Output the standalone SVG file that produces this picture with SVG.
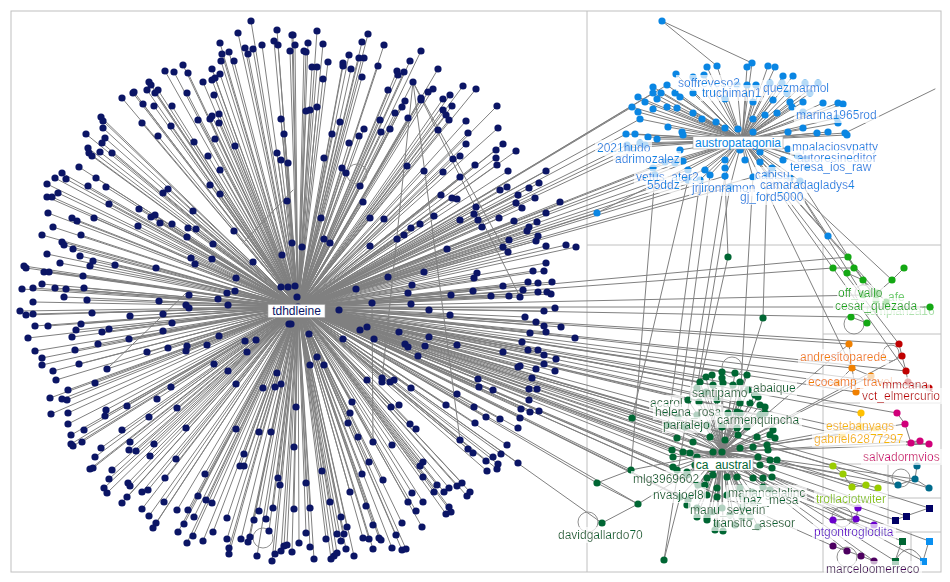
<svg xmlns="http://www.w3.org/2000/svg" width="950" height="582" viewBox="0 0 950 582">
<style>
text{font-family:"Liberation Sans",Arial,sans-serif;font-size:12px}
.e{stroke:#808080;stroke-width:1;fill:none;stroke-linecap:round}
.grid{stroke:#c0c0c0;stroke-width:1;fill:none}
.loop{stroke:#909090;stroke-width:1;fill:none}
.nv{fill:#0b1565}.bl{fill:#0a86e3}.dg{fill:#006633}.lg{fill:#14a814}.or{fill:#f08000}.rd{fill:#c00000}
.gd{fill:#ffc000}.mg{fill:#d0007a}.tl{fill:#006b8c}.lm{fill:#99cc00}.pu{fill:#6a00cc}.dp{fill:#4d0060}
.tnv{fill:#0b1565}.tbl{fill:#0a86e3}.tdg{fill:#006633}.tlg{fill:#14a814}.tor{fill:#f08000}.trd{fill:#c00000}
.tgd{fill:#f5b800}.tmg{fill:#d0007a}.tlm{fill:#8cc400}.tpu{fill:#6a00cc}.tdp{fill:#4d0060}
.hb{fill:#fff;stroke:#a0a0a0;stroke-width:.6}
</style>
<defs>
<filter id="lb" x="-0.02" y="-0.05" width="1.04" height="1.1">
<feFlood flood-color="#fff" flood-opacity="0.7" result="f"/>
<feMerge><feMergeNode in="f"/><feMergeNode in="SourceGraphic"/></feMerge>
</filter>
</defs>
<rect width="950" height="582" fill="#fff"/>
<g id="grid">
<rect class="grid" x="11" y="11" width="930" height="561"/>
<path class="grid" d="M587 11V572M587 245H941M823 245V572M823 334H941M823 403H941M823 464H941M888 464V532M888 498H941M823 532H941M911 532V572"/>
</g>
<g id="connectors">
<path class="e" d="M298 307L251 21M298 307L277 30M298 307L292 35M298 307L238 33M298 307L220 43M298 307L274 41M298 307L278 45M298 307L295 45M298 307L290 51M298 307L262 45M298 307L253 49M298 307L245 48M298 307L248 54M298 307L229 52M298 307L222 54M298 307L221 61M298 307L234 61M298 307L183 65M298 307L165 71M298 307L174 72M298 307L188 73M298 307L212 69M298 307L220 74M298 307L212 80M298 307L215 78M298 307L203 82M298 307L149 82M298 307L151 85M298 307L134 92M298 307L133 93M298 307L147 90M298 307L155 93M298 307L158 90M298 307L187 93M298 307L214 95M298 307L122 98M298 307L143 104M298 307L154 106M298 307L172 106M298 307L101 117M298 307L103 121M298 307L142 123M298 307L171 126M298 307L198 120M298 307L210 119M298 307L212 116M298 307L219 114M298 307L219 123M298 307L281 119M298 307L103 128M298 307L86 134M298 307L105 138M298 307L102 143M298 307L158 136M298 307L215 139M298 307L284 134M298 307L194 142M298 307L235 146M298 307L88 148M298 307L89 153M298 307L92 156M298 307L100 152M298 307L112 153M298 307L208 156M298 307L277 153M298 307L281 160M298 307L288 163M298 307L79 167M298 307L220 170M298 307L62 173M298 307L55 178M298 307L66 179M298 307L96 178M298 307L47 184M298 307L88 186M298 307L106 187M298 307L168 189M298 307L163 193M298 307L210 185M298 307L220 194M298 307L287 201M298 307L58 193M298 307L52 197M298 307L47 197M298 307L109 204M298 307L139 209M298 307L193 211M298 307L48 213M298 307L72 218M298 307L77 221M298 307L94 218M298 307L151 217M298 307L155 215M298 307L160 223M298 307L172 224M298 307L138 226M298 307L53 227M298 307L188 228M298 307L196 229M298 307L234 231M298 307L42 235M298 307L81 235M298 307L187 237M298 307L62 242M298 307L64 245M298 307L73 249M298 307L213 244M298 307L292 243M298 307L47 254M298 307L80 256M298 307L282 255M298 307L191 258M298 307L212 259M298 307L253 262M298 307L93 261M298 307L90 266M298 307L60 263M298 307L115 265M298 307L156 268M298 307L195 264M298 307L24 266M298 307L26 268M298 307L44 272M298 307L49 272M298 307L83 276M298 307L236 278M298 307L42 284M298 307L22 289M298 307L33 288M298 307L55 288M298 307L66 289M298 307L84 288M298 307L227 293M298 307L235 291M298 307L189 295M298 307L281 287M298 307L288 287M298 307L295 286M298 307L64 297M298 307L87 300M298 307L218 299
M298 307L293 35M298 307L317 31M298 307L308 43M298 307L304 51M298 307L306 52M298 307L323 44M298 307L368 34M298 307L362 42M298 307L384 45M298 307L349 55M298 307L359 58M298 307L364 58M298 307L328 62M298 307L343 63M298 307L343 66M298 307L351 69M298 307L312 67M298 307L317 67M298 307L323 79M298 307L362 77M298 307L378 66M298 307L421 51M298 307L410 61M298 307L397 71M298 307L404 72M298 307L398 75M298 307L438 69M298 307L413 82M298 307L388 90M298 307L463 86M298 307L476 89M298 307L433 89M298 307L428 92M298 307L421 98M298 307L421 100M298 307L443 99M298 307L450 95M298 307L405 101M298 307L402 107M298 307L395 113M298 307L452 106M298 307L443 110M298 307L446 115M298 307L449 120M298 307L408 118M298 307L306 111M298 307L310 110M298 307L317 107M298 307L497 106M298 307L466 121M298 307L340 122M298 307L380 120M298 307L390 129M298 307L381 132M298 307L364 129M298 307L359 136M298 307L438 130M298 307L468 133M298 307L498 128M298 307L332 134M298 307L349 143M298 307L466 144M298 307L503 144M298 307L496 150M298 307L516 151M298 307L496 158M298 307L460 156M298 307L453 159M298 307L324 158M298 307L407 166M298 307L475 165M298 307L497 165M298 307L424 171M298 307L443 172M298 307L508 171M298 307L546 171M298 307L342 168M298 307L346 173M298 307L360 186M298 307L460 177M298 307L539 183M298 307L507 187M298 307L500 190M298 307L529 188M298 307L518 195M298 307L535 198M298 307L441 195M298 307L452 198M298 307L457 199M298 307L363 202M298 307L560 202M298 307L516 203M298 307L522 208M298 307L476 207M298 307L474 214M298 307L478 220M298 307L546 213M298 307L499 218M298 307L514 221M298 307L537 222M298 307L529 227M298 307L527 231M298 307L460 220M298 307L434 216M298 307L482 227M298 307L420 224M298 307L411 228M298 307L404 235M298 307L397 239M298 307L384 219M298 307L370 218M298 307L321 218M298 307L509 240M298 307L503 247M298 307L508 252M298 307L538 236M298 307L536 241M298 307L546 246M298 307L566 245M298 307L576 247M298 307L324 239M298 307L330 243M298 307L370 246M298 307L447 249M298 307L302 247M298 307L546 263M298 307L544 271M298 307L533 271M298 307L477 273M298 307L474 278M298 307L424 272M298 307L388 277M298 307L552 282M298 307L538 283M298 307L528 282M298 307L503 286M298 307L412 285M298 307L356 289M298 307L523 290M298 307L538 292M298 307L547 292M298 307L551 294M298 307L473 291M298 307L408 293M298 307L451 295M298 307L491 296M298 307L509 296M298 307L520 297M298 307L297 297
M298 307L33 302M298 307L20 311M298 307L26 315M298 307L33 314M298 307L92 313M298 307L159 301M298 307L163 314M298 307L186 305M298 307L189 308M298 307L228 305M298 307L130 316M298 307L35 326M298 307L48 326M298 307L81 324M298 307L76 330M298 307L102 332M298 307L109 329M298 307L172 323M298 307L163 331M298 307L28 338M298 307L72 337M298 307L129 339M298 307L98 344M298 307L187 346M298 307L186 351M298 307L207 345M298 307L219 336M298 307L245 341M298 307L256 340M298 307L247 352M298 307L289 324M298 307L168 348M298 307L147 352M298 307L35 351M298 307L75 350M298 307L42 358M298 307L42 365M298 307L79 364M298 307L53 371M298 307L214 364M298 307L228 371M298 307L107 369M298 307L56 380M298 307L95 383M298 307L277 373M298 307L236 384M298 307L171 387M298 307L263 388M298 307L275 387M298 307L281 384M298 307L68 390M298 307L50 398M298 307L62 399M298 307L67 400M298 307L157 399M298 307L127 406M298 307L177 408M298 307L51 414M298 307L68 413M298 307L106 410M298 307L105 416M298 307L149 417M298 307L296 407M298 307L68 424M298 307L186 428M298 307L236 429M298 307L259 432M298 307L271 432M298 307L84 430M298 307L122 430M298 307L71 435M298 307L71 444M298 307L73 446M298 307L82 442M298 307L130 442M298 307L154 444M298 307L129 450M298 307L136 451M298 307L101 448M298 307L294 447M298 307L244 454M298 307L150 456M298 307L176 459M298 307L95 457M298 307L90 469M298 307L93 468M298 307L240 466M298 307L244 466M298 307L112 470M298 307L205 474M298 307L109 479M298 307L165 478M298 307L278 478M298 307L280 485M298 307L128 483M298 307L130 486M298 307L104 488M298 307L107 493M298 307L142 492M298 307L148 490M298 307L198 496M298 307L206 500M298 307L212 503M298 307L127 497M298 307L122 503M298 307L164 502M298 307L142 509M298 307L177 510M298 307L188 510M298 307L259 511M298 307L273 508M298 307L294 509M298 307L227 518M298 307L194 517M298 307L149 516M298 307L156 523M298 307L153 528M298 307L184 524M298 307L254 520M298 307L266 519M298 307L178 532M298 307L213 532M298 307L269 531M298 307L193 536M298 307L203 541M298 307L187 543M298 307L227 539M298 307L241 539M298 307L248 542M298 307L250 537M298 307L229 548M298 307L229 554M298 307L257 556M298 307L272 561M298 307L275 554M298 307L281 551M298 307L284 546M298 307L287 545M298 307L292 552M298 307L299 543
M298 307L339 310M298 307L372 303M298 307L411 304M298 307L429 310M298 307L450 315M298 307L555 308M298 307L544 311M298 307L525 317M298 307L536 322M298 307L544 326M298 307L561 327M298 307L546 332M298 307L530 333M298 307L575 338M298 307L291 324M298 307L309 334M298 307L343 339M298 307L360 330M298 307L367 327M298 307L374 339M298 307L399 332M298 307L429 337M298 307L405 344M298 307L408 347M298 307L425 346M298 307L418 356M298 307L457 345M298 307L503 352M298 307L522 342M298 307L528 350M298 307L538 350M298 307L544 355M298 307L556 359M298 307L544 364M298 307L536 369M298 307L518 367M298 307L520 366M298 307L555 371M298 307L532 378M298 307L529 389M298 307L537 389M298 307L529 400M298 307L521 409M298 307L530 412M298 307L539 411M298 307L520 418M298 307L518 428M298 307L500 419M298 307L486 417M298 307L474 407M298 307L475 423M298 307L478 379M298 307L479 387M298 307L493 390M298 307L457 394M298 307L446 405M298 307L411 388M298 307L317 357M298 307L324 365M298 307L310 365M298 307L367 380M298 307L382 378M298 307L382 382M298 307L390 382M298 307L394 380M298 307L391 407M298 307L399 405M298 307L352 402M298 307L350 413M298 307L348 423M298 307L358 437M298 307L373 442M298 307L392 445M298 307L410 424M298 307L416 429M298 307L460 440M298 307L468 449M298 307L473 453M298 307L507 445M298 307L501 454M298 307L493 457M298 307L518 463M298 307L486 461M298 307L487 471M298 307L498 464M298 307L497 469M298 307L369 462M298 307L362 474M298 307L322 471M298 307L306 483M298 307L383 480M298 307L420 466M298 307L423 462M298 307L423 477M298 307L437 485M298 307L434 492M298 307L444 492M298 307L449 488M298 307L457 486M298 307L462 483M298 307L467 496M298 307L470 492M298 307L412 493M298 307L408 502M298 307L423 502M298 307L416 511M298 307L449 507M298 307L446 514M298 307L451 512M298 307L350 492M298 307L330 502M298 307L310 508M298 307L366 506M298 307L341 517M298 307L373 525M298 307L347 527M298 307L402 523M298 307L422 527M298 307L396 535M298 307L306 533M298 307L326 539M298 307L337 534M298 307L344 534M298 307L341 541M298 307L363 538M298 307L369 539M298 307L379 538M298 307L381 540M298 307L310 547M298 307L346 549M298 307L373 549M298 307L392 548M298 307L402 550M298 307L406 549M298 307L314 559M298 307L331 559M298 307L334 556M298 307L337 553M298 307L354 556"/>
<path class="e" d="M413 82L382 380M413 82L460 440M413 82L503 247M413 82L520 297M186 293L107 369M293 190L243 243M372 303L373 442"/>
<path class="e" d="M298 307L667 85M298 307L653 93M298 307L632 107M298 307L640 119M298 307L626 134M298 307L627 145M298 307L645 145M298 307L653 168M298 307L655 175M298 307L665 162M298 307L683 161M298 307L688 170M298 307L688 180M298 307L700 180M298 307L705 170M298 307L725 176M298 307L730 187M298 307L753 177M298 307L597 213M298 307L640 143"/>
<path class="e" d="M298 307L678 417M298 307L668 425M298 307L677 438M298 307L672 450M298 307L673 457M298 307L673 467M298 307L688 400M298 307L697 388M298 307L700 382M298 307L706 377M298 307L685 427M298 307L693 442M298 307L683 452M298 307L677 470M298 307L687 475M298 307L680 497M298 307L688 500M298 307L697 485M298 307L722 372M298 307L735 373M298 307L632 418M298 307L631 470M298 307L597 483M298 307L602 523M298 307L638 504M298 307L713 385M298 307L697 415M298 307L707 425M298 307L710 437M298 307L740 403M298 307L760 415"/>
<path class="e" d="M298 307L848 257M298 307L833 268M298 307L863 295M298 307L851 317M298 307L930 307M298 307L849 344M298 307L852 368M298 307L837 383M298 307L856 392M298 307L899 344M298 307L906 371M298 307L929 388M298 307L861 413M298 307L842 435M298 307L897 413M298 307L911 443M298 307L898 485M298 307L929 488M298 307L833 466M298 307L852 487M298 307L858 508M298 307L874 525M298 307L833 546M298 307L895 520M298 307L929 508M298 307L902 541M298 307L929 541"/>
<path class="e" d="M742 140L676 74M742 140L707 67M742 140L717 66M742 140L747 67M742 140L752 63M742 140L768 66M742 140L775 67M742 140L793 76M742 140L783 76M742 140L805 83M742 140L810 93M742 140L818 83M742 140L704 75M742 140L693 77M742 140L667 85M742 140L653 87M742 140L653 93M742 140L661 93M742 140L675 93M742 140L693 93M742 140L737 85M742 140L747 85M742 140L756 85M742 140L770 83M742 140L782 83M742 140L787 93M742 140L638 97M742 140L645 102M742 140L657 99M742 140L680 97M742 140L725 99M742 140L753 102M742 140L773 100M742 140L790 102M742 140L803 102M742 140L823 103M742 140L838 103M742 140L843 104M742 140L632 107M742 140L638 112M742 140L640 119M742 140L653 109M742 140L667 107M742 140L677 108M742 140L693 113M742 140L702 119M742 140L716 122M742 140L753 119M742 140L765 115M742 140L777 113M742 140L792 107M742 140L803 112M742 140L837 118M742 140L838 123M742 140L626 134M742 140L635 134M742 140L648 137M742 140L657 139M742 140L668 127M742 140L682 132M742 140L683 135M742 140L725 128M742 140L738 129M742 140L753 132M742 140L788 132M742 140L803 128M742 140L817 133M742 140L828 132M742 140L845 133M742 140L847 135M742 140L645 145M742 140L627 145M742 140L628 148M742 140L640 143M742 140L680 150M742 140L740 150M742 140L750 145M742 140L760 152M742 140L788 149M742 140L798 156M742 140L806 159M742 140L807 167M742 140L665 162M742 140L675 163M742 140L683 161M742 140L688 170M742 140L705 170M742 140L725 160M742 140L725 168M742 140L745 160M742 140L760 162M742 140L772 168M742 140L783 160M742 140L653 168M742 140L655 175M742 140L688 180M742 140L700 180M742 140L710 175M742 140L753 177M742 140L767 175M742 140L790 178M742 140L800 181M742 140L725 176M742 140L730 187M742 140L597 213M742 140L828 236M662 21L717 66M662 21L752 63M845 133L935 89"/>
<path class="e" d="M725 176L728 257M728 257L700 382M767 175L763 318M763 318L722 452M688 180L632 418M700 180L668 425M730 187L697 388M753 177L740 403M710 175L678 417M655 175L631 470M725 176L664 560M742 140L848 257M742 140L892 280M742 140L899 344M742 140L906 371M790 178L863 295M800 181L876 300M828 236L886 302M790 178L828 236M742 140L852 368"/>
<path class="e" d="M722 452L722 372M722 452L735 373M722 452L747 375M722 452L706 377M722 452L712 375M722 452L722 378M722 452L700 382M722 452L713 385M722 452L723 383M722 452L733 385M722 452L740 382M722 452L697 388M722 452L706 392M722 452L748 390M722 452L755 395M722 452L758 397M722 452L688 400M722 452L699 402M722 452L717 400M722 452L740 403M722 452L750 403M722 452L760 405M722 452L765 407M722 452L740 413M722 452L760 415M722 452L765 413M722 452L678 417M722 452L697 415M722 452L728 413M722 452L737 412M722 452L668 425M722 452L685 427M722 452L707 425M722 452L722 427M722 452L737 428M722 452L747 427M722 452L773 430M722 452L770 435M722 452L775 438M722 452L677 438M722 452L693 442M722 452L710 437M722 452L725 440M722 452L738 435M722 452L757 437M722 452L767 445M722 452L672 450M722 452L683 452M722 452L690 453M722 452L713 452M722 452L740 448M722 452L753 447M722 452L768 450M722 452L673 457M722 452L697 457M722 452L758 457M722 452L770 460M722 452L777 460M722 452L673 467M722 452L677 470M722 452L687 472M722 452L695 465M722 452L760 465M722 452L772 468M722 452L687 475M722 452L707 478M722 452L713 475M722 452L727 477M722 452L737 477M722 452L753 478M722 452L763 478M722 452L772 477M722 452L698 485M722 452L705 485M722 452L717 488M722 452L740 488M722 452L752 492M722 452L763 487M722 452L770 490M722 452L680 497M722 452L688 500M722 452L707 495M722 452L717 497M722 452L727 495M722 452L743 497M722 452L687 505M722 452L697 508M722 452L722 508M722 452L712 512M722 452L743 507M722 452L753 503M722 452L697 517M722 452L707 517M722 452L730 515M722 452L742 517M722 452L750 517M722 452L707 520M722 452L717 525M722 452L735 525M722 452L715 530M722 452L723 531M722 452L758 527M722 452L632 418M722 452L631 470M722 452L638 504M597 483L631 470M597 483L638 504M602 523L638 504M664 560L680 497"/>
<path class="e" d="M722 452L849 344M722 452L871 376M722 452L902 356M722 452L860 426M722 452L876 429M722 452L905 424M722 452L920 441M722 452L915 479M722 452L843 474M722 452L866 485M722 452L856 519M722 452L847 551M722 452L874 561M722 452L906 516M722 452L895 561M722 452L923 561M722 452L929 444M722 452L898 485"/>
<path class="e" d="M833 268L854 268M848 257L854 268M854 268L863 280M904 268L892 280M863 280L877 293M892 280L877 293M877 293L876 300M877 293L886 302M847 273L863 280M851 317L867 323M849 344L852 368M852 368L837 383M852 368L871 376M852 368L856 392M899 344L902 356M902 356L906 371M906 371L908 382M908 382L929 388M861 413L860 426M860 426L876 429M860 426L842 435M897 413L905 424M905 424L911 443M911 443L920 441M911 443L929 444M917 466L915 479M915 479L898 485M915 479L929 488M833 466L843 474M843 474L852 487M852 487L866 485M866 485L878 488M858 508L856 519M856 519L874 525M856 519L833 520M833 546L847 551M847 551L861 556M861 556L874 561M895 520L906 516M906 516L929 508M902 541L895 561M929 541L923 561M895 561Q909 537 923 561"/>
<g id="self-loops">
<circle class="loop" cx="263" cy="538" r="10"/>
<circle class="loop" cx="357" cy="174" r="10"/>
<circle class="loop" cx="588" cy="522" r="10"/>
<circle class="loop" cx="732" cy="367" r="10"/>
<circle class="loop" cx="863" cy="293" r="8"/>
<circle class="loop" cx="854" cy="324" r="10"/>
<circle class="loop" cx="891" cy="353" r="8"/>
<circle class="loop" cx="901" cy="478" r="9"/>
<circle class="loop" cx="842" cy="517" r="10"/>
<circle class="loop" cx="847" cy="557" r="10"/>
</g>
</g>
<g id="cluster-tdhdleine" class="nv">
<circle cx="298" cy="307" r="3.6"/>
<circle cx="251" cy="21" r="3.6"/><circle cx="277" cy="30" r="3.6"/><circle cx="292" cy="35" r="3.6"/><circle cx="238" cy="33" r="3.6"/><circle cx="220" cy="43" r="3.6"/><circle cx="274" cy="41" r="3.6"/><circle cx="278" cy="45" r="3.6"/><circle cx="295" cy="45" r="3.6"/><circle cx="290" cy="51" r="3.6"/><circle cx="262" cy="45" r="3.6"/><circle cx="253" cy="49" r="3.6"/><circle cx="245" cy="48" r="3.6"/><circle cx="248" cy="54" r="3.6"/><circle cx="229" cy="52" r="3.6"/><circle cx="222" cy="54" r="3.6"/><circle cx="221" cy="61" r="3.6"/><circle cx="234" cy="61" r="3.6"/><circle cx="183" cy="65" r="3.6"/><circle cx="165" cy="71" r="3.6"/><circle cx="174" cy="72" r="3.6"/><circle cx="188" cy="73" r="3.6"/><circle cx="212" cy="69" r="3.6"/><circle cx="220" cy="74" r="3.6"/><circle cx="212" cy="80" r="3.6"/><circle cx="215" cy="78" r="3.6"/><circle cx="203" cy="82" r="3.6"/><circle cx="149" cy="82" r="3.6"/><circle cx="151" cy="85" r="3.6"/><circle cx="134" cy="92" r="3.6"/><circle cx="133" cy="93" r="3.6"/><circle cx="147" cy="90" r="3.6"/><circle cx="155" cy="93" r="3.6"/><circle cx="158" cy="90" r="3.6"/><circle cx="187" cy="93" r="3.6"/><circle cx="214" cy="95" r="3.6"/><circle cx="122" cy="98" r="3.6"/><circle cx="143" cy="104" r="3.6"/><circle cx="154" cy="106" r="3.6"/><circle cx="172" cy="106" r="3.6"/><circle cx="101" cy="117" r="3.6"/><circle cx="103" cy="121" r="3.6"/><circle cx="142" cy="123" r="3.6"/><circle cx="171" cy="126" r="3.6"/><circle cx="198" cy="120" r="3.6"/><circle cx="210" cy="119" r="3.6"/><circle cx="212" cy="116" r="3.6"/><circle cx="219" cy="114" r="3.6"/><circle cx="219" cy="123" r="3.6"/><circle cx="281" cy="119" r="3.6"/><circle cx="103" cy="128" r="3.6"/><circle cx="86" cy="134" r="3.6"/><circle cx="105" cy="138" r="3.6"/><circle cx="102" cy="143" r="3.6"/><circle cx="158" cy="136" r="3.6"/><circle cx="215" cy="139" r="3.6"/><circle cx="284" cy="134" r="3.6"/><circle cx="194" cy="142" r="3.6"/><circle cx="235" cy="146" r="3.6"/><circle cx="88" cy="148" r="3.6"/><circle cx="89" cy="153" r="3.6"/><circle cx="92" cy="156" r="3.6"/><circle cx="100" cy="152" r="3.6"/><circle cx="112" cy="153" r="3.6"/><circle cx="208" cy="156" r="3.6"/><circle cx="277" cy="153" r="3.6"/><circle cx="281" cy="160" r="3.6"/><circle cx="288" cy="163" r="3.6"/><circle cx="79" cy="167" r="3.6"/><circle cx="220" cy="170" r="3.6"/><circle cx="62" cy="173" r="3.6"/><circle cx="55" cy="178" r="3.6"/><circle cx="66" cy="179" r="3.6"/><circle cx="96" cy="178" r="3.6"/><circle cx="47" cy="184" r="3.6"/><circle cx="88" cy="186" r="3.6"/><circle cx="106" cy="187" r="3.6"/><circle cx="168" cy="189" r="3.6"/><circle cx="163" cy="193" r="3.6"/><circle cx="210" cy="185" r="3.6"/><circle cx="220" cy="194" r="3.6"/><circle cx="287" cy="201" r="3.6"/><circle cx="58" cy="193" r="3.6"/><circle cx="52" cy="197" r="3.6"/><circle cx="47" cy="197" r="3.6"/><circle cx="109" cy="204" r="3.6"/><circle cx="139" cy="209" r="3.6"/><circle cx="193" cy="211" r="3.6"/><circle cx="48" cy="213" r="3.6"/><circle cx="72" cy="218" r="3.6"/><circle cx="77" cy="221" r="3.6"/><circle cx="94" cy="218" r="3.6"/><circle cx="151" cy="217" r="3.6"/><circle cx="155" cy="215" r="3.6"/><circle cx="160" cy="223" r="3.6"/><circle cx="172" cy="224" r="3.6"/><circle cx="138" cy="226" r="3.6"/><circle cx="53" cy="227" r="3.6"/><circle cx="188" cy="228" r="3.6"/><circle cx="196" cy="229" r="3.6"/><circle cx="234" cy="231" r="3.6"/><circle cx="42" cy="235" r="3.6"/><circle cx="81" cy="235" r="3.6"/><circle cx="187" cy="237" r="3.6"/><circle cx="62" cy="242" r="3.6"/><circle cx="64" cy="245" r="3.6"/><circle cx="73" cy="249" r="3.6"/><circle cx="213" cy="244" r="3.6"/><circle cx="292" cy="243" r="3.6"/><circle cx="47" cy="254" r="3.6"/><circle cx="80" cy="256" r="3.6"/><circle cx="282" cy="255" r="3.6"/><circle cx="191" cy="258" r="3.6"/><circle cx="212" cy="259" r="3.6"/><circle cx="253" cy="262" r="3.6"/><circle cx="93" cy="261" r="3.6"/><circle cx="90" cy="266" r="3.6"/><circle cx="60" cy="263" r="3.6"/><circle cx="115" cy="265" r="3.6"/><circle cx="156" cy="268" r="3.6"/><circle cx="195" cy="264" r="3.6"/><circle cx="24" cy="266" r="3.6"/><circle cx="26" cy="268" r="3.6"/><circle cx="44" cy="272" r="3.6"/><circle cx="49" cy="272" r="3.6"/><circle cx="83" cy="276" r="3.6"/><circle cx="236" cy="278" r="3.6"/><circle cx="42" cy="284" r="3.6"/><circle cx="22" cy="289" r="3.6"/><circle cx="33" cy="288" r="3.6"/><circle cx="55" cy="288" r="3.6"/><circle cx="66" cy="289" r="3.6"/><circle cx="84" cy="288" r="3.6"/><circle cx="227" cy="293" r="3.6"/><circle cx="235" cy="291" r="3.6"/><circle cx="189" cy="295" r="3.6"/><circle cx="281" cy="287" r="3.6"/><circle cx="288" cy="287" r="3.6"/><circle cx="295" cy="286" r="3.6"/><circle cx="64" cy="297" r="3.6"/><circle cx="87" cy="300" r="3.6"/><circle cx="218" cy="299" r="3.6"/>
<circle cx="293" cy="35" r="3.6"/><circle cx="317" cy="31" r="3.6"/><circle cx="308" cy="43" r="3.6"/><circle cx="304" cy="51" r="3.6"/><circle cx="306" cy="52" r="3.6"/><circle cx="323" cy="44" r="3.6"/><circle cx="368" cy="34" r="3.6"/><circle cx="362" cy="42" r="3.6"/><circle cx="384" cy="45" r="3.6"/><circle cx="349" cy="55" r="3.6"/><circle cx="359" cy="58" r="3.6"/><circle cx="364" cy="58" r="3.6"/><circle cx="328" cy="62" r="3.6"/><circle cx="343" cy="63" r="3.6"/><circle cx="343" cy="66" r="3.6"/><circle cx="351" cy="69" r="3.6"/><circle cx="312" cy="67" r="3.6"/><circle cx="317" cy="67" r="3.6"/><circle cx="323" cy="79" r="3.6"/><circle cx="362" cy="77" r="3.6"/><circle cx="378" cy="66" r="3.6"/><circle cx="421" cy="51" r="3.6"/><circle cx="410" cy="61" r="3.6"/><circle cx="397" cy="71" r="3.6"/><circle cx="404" cy="72" r="3.6"/><circle cx="398" cy="75" r="3.6"/><circle cx="438" cy="69" r="3.6"/><circle cx="413" cy="82" r="3.6"/><circle cx="388" cy="90" r="3.6"/><circle cx="463" cy="86" r="3.6"/><circle cx="476" cy="89" r="3.6"/><circle cx="433" cy="89" r="3.6"/><circle cx="428" cy="92" r="3.6"/><circle cx="421" cy="98" r="3.6"/><circle cx="421" cy="100" r="3.6"/><circle cx="443" cy="99" r="3.6"/><circle cx="450" cy="95" r="3.6"/><circle cx="405" cy="101" r="3.6"/><circle cx="402" cy="107" r="3.6"/><circle cx="395" cy="113" r="3.6"/><circle cx="452" cy="106" r="3.6"/><circle cx="443" cy="110" r="3.6"/><circle cx="446" cy="115" r="3.6"/><circle cx="449" cy="120" r="3.6"/><circle cx="408" cy="118" r="3.6"/><circle cx="306" cy="111" r="3.6"/><circle cx="310" cy="110" r="3.6"/><circle cx="317" cy="107" r="3.6"/><circle cx="497" cy="106" r="3.6"/><circle cx="466" cy="121" r="3.6"/><circle cx="340" cy="122" r="3.6"/><circle cx="380" cy="120" r="3.6"/><circle cx="390" cy="129" r="3.6"/><circle cx="381" cy="132" r="3.6"/><circle cx="364" cy="129" r="3.6"/><circle cx="359" cy="136" r="3.6"/><circle cx="438" cy="130" r="3.6"/><circle cx="468" cy="133" r="3.6"/><circle cx="498" cy="128" r="3.6"/><circle cx="332" cy="134" r="3.6"/><circle cx="349" cy="143" r="3.6"/><circle cx="466" cy="144" r="3.6"/><circle cx="503" cy="144" r="3.6"/><circle cx="496" cy="150" r="3.6"/><circle cx="516" cy="151" r="3.6"/><circle cx="496" cy="158" r="3.6"/><circle cx="460" cy="156" r="3.6"/><circle cx="453" cy="159" r="3.6"/><circle cx="324" cy="158" r="3.6"/><circle cx="407" cy="166" r="3.6"/><circle cx="475" cy="165" r="3.6"/><circle cx="497" cy="165" r="3.6"/><circle cx="424" cy="171" r="3.6"/><circle cx="443" cy="172" r="3.6"/><circle cx="508" cy="171" r="3.6"/><circle cx="546" cy="171" r="3.6"/><circle cx="342" cy="168" r="3.6"/><circle cx="346" cy="173" r="3.6"/><circle cx="360" cy="186" r="3.6"/><circle cx="460" cy="177" r="3.6"/><circle cx="539" cy="183" r="3.6"/><circle cx="507" cy="187" r="3.6"/><circle cx="500" cy="190" r="3.6"/><circle cx="529" cy="188" r="3.6"/><circle cx="518" cy="195" r="3.6"/><circle cx="535" cy="198" r="3.6"/><circle cx="441" cy="195" r="3.6"/><circle cx="452" cy="198" r="3.6"/><circle cx="457" cy="199" r="3.6"/><circle cx="363" cy="202" r="3.6"/><circle cx="560" cy="202" r="3.6"/><circle cx="516" cy="203" r="3.6"/><circle cx="522" cy="208" r="3.6"/><circle cx="476" cy="207" r="3.6"/><circle cx="474" cy="214" r="3.6"/><circle cx="478" cy="220" r="3.6"/><circle cx="546" cy="213" r="3.6"/><circle cx="499" cy="218" r="3.6"/><circle cx="514" cy="221" r="3.6"/><circle cx="537" cy="222" r="3.6"/><circle cx="529" cy="227" r="3.6"/><circle cx="527" cy="231" r="3.6"/><circle cx="460" cy="220" r="3.6"/><circle cx="434" cy="216" r="3.6"/><circle cx="482" cy="227" r="3.6"/><circle cx="420" cy="224" r="3.6"/><circle cx="411" cy="228" r="3.6"/><circle cx="404" cy="235" r="3.6"/><circle cx="397" cy="239" r="3.6"/><circle cx="384" cy="219" r="3.6"/><circle cx="370" cy="218" r="3.6"/><circle cx="321" cy="218" r="3.6"/><circle cx="509" cy="240" r="3.6"/><circle cx="503" cy="247" r="3.6"/><circle cx="508" cy="252" r="3.6"/><circle cx="538" cy="236" r="3.6"/><circle cx="536" cy="241" r="3.6"/><circle cx="546" cy="246" r="3.6"/><circle cx="566" cy="245" r="3.6"/><circle cx="576" cy="247" r="3.6"/><circle cx="324" cy="239" r="3.6"/><circle cx="330" cy="243" r="3.6"/><circle cx="370" cy="246" r="3.6"/><circle cx="447" cy="249" r="3.6"/><circle cx="302" cy="247" r="3.6"/><circle cx="546" cy="263" r="3.6"/><circle cx="544" cy="271" r="3.6"/><circle cx="533" cy="271" r="3.6"/><circle cx="477" cy="273" r="3.6"/><circle cx="474" cy="278" r="3.6"/><circle cx="424" cy="272" r="3.6"/><circle cx="388" cy="277" r="3.6"/><circle cx="552" cy="282" r="3.6"/><circle cx="538" cy="283" r="3.6"/><circle cx="528" cy="282" r="3.6"/><circle cx="503" cy="286" r="3.6"/><circle cx="412" cy="285" r="3.6"/><circle cx="356" cy="289" r="3.6"/><circle cx="523" cy="290" r="3.6"/><circle cx="538" cy="292" r="3.6"/><circle cx="547" cy="292" r="3.6"/><circle cx="551" cy="294" r="3.6"/><circle cx="473" cy="291" r="3.6"/><circle cx="408" cy="293" r="3.6"/><circle cx="451" cy="295" r="3.6"/><circle cx="491" cy="296" r="3.6"/><circle cx="509" cy="296" r="3.6"/><circle cx="520" cy="297" r="3.6"/><circle cx="297" cy="297" r="3.6"/>
<circle cx="33" cy="302" r="3.6"/><circle cx="20" cy="311" r="3.6"/><circle cx="26" cy="315" r="3.6"/><circle cx="33" cy="314" r="3.6"/><circle cx="92" cy="313" r="3.6"/><circle cx="159" cy="301" r="3.6"/><circle cx="163" cy="314" r="3.6"/><circle cx="186" cy="305" r="3.6"/><circle cx="189" cy="308" r="3.6"/><circle cx="228" cy="305" r="3.6"/><circle cx="130" cy="316" r="3.6"/><circle cx="35" cy="326" r="3.6"/><circle cx="48" cy="326" r="3.6"/><circle cx="81" cy="324" r="3.6"/><circle cx="76" cy="330" r="3.6"/><circle cx="102" cy="332" r="3.6"/><circle cx="109" cy="329" r="3.6"/><circle cx="172" cy="323" r="3.6"/><circle cx="163" cy="331" r="3.6"/><circle cx="28" cy="338" r="3.6"/><circle cx="72" cy="337" r="3.6"/><circle cx="129" cy="339" r="3.6"/><circle cx="98" cy="344" r="3.6"/><circle cx="187" cy="346" r="3.6"/><circle cx="186" cy="351" r="3.6"/><circle cx="207" cy="345" r="3.6"/><circle cx="219" cy="336" r="3.6"/><circle cx="245" cy="341" r="3.6"/><circle cx="256" cy="340" r="3.6"/><circle cx="247" cy="352" r="3.6"/><circle cx="289" cy="324" r="3.6"/><circle cx="168" cy="348" r="3.6"/><circle cx="147" cy="352" r="3.6"/><circle cx="35" cy="351" r="3.6"/><circle cx="75" cy="350" r="3.6"/><circle cx="42" cy="358" r="3.6"/><circle cx="42" cy="365" r="3.6"/><circle cx="79" cy="364" r="3.6"/><circle cx="53" cy="371" r="3.6"/><circle cx="214" cy="364" r="3.6"/><circle cx="228" cy="371" r="3.6"/><circle cx="107" cy="369" r="3.6"/><circle cx="56" cy="380" r="3.6"/><circle cx="95" cy="383" r="3.6"/><circle cx="277" cy="373" r="3.6"/><circle cx="236" cy="384" r="3.6"/><circle cx="171" cy="387" r="3.6"/><circle cx="263" cy="388" r="3.6"/><circle cx="275" cy="387" r="3.6"/><circle cx="281" cy="384" r="3.6"/><circle cx="68" cy="390" r="3.6"/><circle cx="50" cy="398" r="3.6"/><circle cx="62" cy="399" r="3.6"/><circle cx="67" cy="400" r="3.6"/><circle cx="157" cy="399" r="3.6"/><circle cx="127" cy="406" r="3.6"/><circle cx="177" cy="408" r="3.6"/><circle cx="51" cy="414" r="3.6"/><circle cx="68" cy="413" r="3.6"/><circle cx="106" cy="410" r="3.6"/><circle cx="105" cy="416" r="3.6"/><circle cx="149" cy="417" r="3.6"/><circle cx="296" cy="407" r="3.6"/><circle cx="68" cy="424" r="3.6"/><circle cx="186" cy="428" r="3.6"/><circle cx="236" cy="429" r="3.6"/><circle cx="259" cy="432" r="3.6"/><circle cx="271" cy="432" r="3.6"/><circle cx="84" cy="430" r="3.6"/><circle cx="122" cy="430" r="3.6"/><circle cx="71" cy="435" r="3.6"/><circle cx="71" cy="444" r="3.6"/><circle cx="73" cy="446" r="3.6"/><circle cx="82" cy="442" r="3.6"/><circle cx="130" cy="442" r="3.6"/><circle cx="154" cy="444" r="3.6"/><circle cx="129" cy="450" r="3.6"/><circle cx="136" cy="451" r="3.6"/><circle cx="101" cy="448" r="3.6"/><circle cx="294" cy="447" r="3.6"/><circle cx="244" cy="454" r="3.6"/><circle cx="150" cy="456" r="3.6"/><circle cx="176" cy="459" r="3.6"/><circle cx="95" cy="457" r="3.6"/><circle cx="90" cy="469" r="3.6"/><circle cx="93" cy="468" r="3.6"/><circle cx="240" cy="466" r="3.6"/><circle cx="244" cy="466" r="3.6"/><circle cx="112" cy="470" r="3.6"/><circle cx="205" cy="474" r="3.6"/><circle cx="109" cy="479" r="3.6"/><circle cx="165" cy="478" r="3.6"/><circle cx="278" cy="478" r="3.6"/><circle cx="280" cy="485" r="3.6"/><circle cx="128" cy="483" r="3.6"/><circle cx="130" cy="486" r="3.6"/><circle cx="104" cy="488" r="3.6"/><circle cx="107" cy="493" r="3.6"/><circle cx="142" cy="492" r="3.6"/><circle cx="148" cy="490" r="3.6"/><circle cx="198" cy="496" r="3.6"/><circle cx="206" cy="500" r="3.6"/><circle cx="212" cy="503" r="3.6"/><circle cx="127" cy="497" r="3.6"/><circle cx="122" cy="503" r="3.6"/><circle cx="164" cy="502" r="3.6"/><circle cx="142" cy="509" r="3.6"/><circle cx="177" cy="510" r="3.6"/><circle cx="188" cy="510" r="3.6"/><circle cx="259" cy="511" r="3.6"/><circle cx="273" cy="508" r="3.6"/><circle cx="294" cy="509" r="3.6"/><circle cx="227" cy="518" r="3.6"/><circle cx="194" cy="517" r="3.6"/><circle cx="149" cy="516" r="3.6"/><circle cx="156" cy="523" r="3.6"/><circle cx="153" cy="528" r="3.6"/><circle cx="184" cy="524" r="3.6"/><circle cx="254" cy="520" r="3.6"/><circle cx="266" cy="519" r="3.6"/><circle cx="178" cy="532" r="3.6"/><circle cx="213" cy="532" r="3.6"/><circle cx="269" cy="531" r="3.6"/><circle cx="193" cy="536" r="3.6"/><circle cx="203" cy="541" r="3.6"/><circle cx="187" cy="543" r="3.6"/><circle cx="227" cy="539" r="3.6"/><circle cx="241" cy="539" r="3.6"/><circle cx="248" cy="542" r="3.6"/><circle cx="250" cy="537" r="3.6"/><circle cx="229" cy="548" r="3.6"/><circle cx="229" cy="554" r="3.6"/><circle cx="257" cy="556" r="3.6"/><circle cx="272" cy="561" r="3.6"/><circle cx="275" cy="554" r="3.6"/><circle cx="281" cy="551" r="3.6"/><circle cx="284" cy="546" r="3.6"/><circle cx="287" cy="545" r="3.6"/><circle cx="292" cy="552" r="3.6"/><circle cx="299" cy="543" r="3.6"/>
<circle cx="339" cy="310" r="3.6"/><circle cx="372" cy="303" r="3.6"/><circle cx="411" cy="304" r="3.6"/><circle cx="429" cy="310" r="3.6"/><circle cx="450" cy="315" r="3.6"/><circle cx="555" cy="308" r="3.6"/><circle cx="544" cy="311" r="3.6"/><circle cx="525" cy="317" r="3.6"/><circle cx="536" cy="322" r="3.6"/><circle cx="544" cy="326" r="3.6"/><circle cx="561" cy="327" r="3.6"/><circle cx="546" cy="332" r="3.6"/><circle cx="530" cy="333" r="3.6"/><circle cx="575" cy="338" r="3.6"/><circle cx="291" cy="324" r="3.6"/><circle cx="309" cy="334" r="3.6"/><circle cx="343" cy="339" r="3.6"/><circle cx="360" cy="330" r="3.6"/><circle cx="367" cy="327" r="3.6"/><circle cx="374" cy="339" r="3.6"/><circle cx="399" cy="332" r="3.6"/><circle cx="429" cy="337" r="3.6"/><circle cx="405" cy="344" r="3.6"/><circle cx="408" cy="347" r="3.6"/><circle cx="425" cy="346" r="3.6"/><circle cx="418" cy="356" r="3.6"/><circle cx="457" cy="345" r="3.6"/><circle cx="503" cy="352" r="3.6"/><circle cx="522" cy="342" r="3.6"/><circle cx="528" cy="350" r="3.6"/><circle cx="538" cy="350" r="3.6"/><circle cx="544" cy="355" r="3.6"/><circle cx="556" cy="359" r="3.6"/><circle cx="544" cy="364" r="3.6"/><circle cx="536" cy="369" r="3.6"/><circle cx="518" cy="367" r="3.6"/><circle cx="520" cy="366" r="3.6"/><circle cx="555" cy="371" r="3.6"/><circle cx="532" cy="378" r="3.6"/><circle cx="529" cy="389" r="3.6"/><circle cx="537" cy="389" r="3.6"/><circle cx="529" cy="400" r="3.6"/><circle cx="521" cy="409" r="3.6"/><circle cx="530" cy="412" r="3.6"/><circle cx="539" cy="411" r="3.6"/><circle cx="520" cy="418" r="3.6"/><circle cx="518" cy="428" r="3.6"/><circle cx="500" cy="419" r="3.6"/><circle cx="486" cy="417" r="3.6"/><circle cx="474" cy="407" r="3.6"/><circle cx="475" cy="423" r="3.6"/><circle cx="478" cy="379" r="3.6"/><circle cx="479" cy="387" r="3.6"/><circle cx="493" cy="390" r="3.6"/><circle cx="457" cy="394" r="3.6"/><circle cx="446" cy="405" r="3.6"/><circle cx="411" cy="388" r="3.6"/><circle cx="317" cy="357" r="3.6"/><circle cx="324" cy="365" r="3.6"/><circle cx="310" cy="365" r="3.6"/><circle cx="367" cy="380" r="3.6"/><circle cx="382" cy="378" r="3.6"/><circle cx="382" cy="382" r="3.6"/><circle cx="390" cy="382" r="3.6"/><circle cx="394" cy="380" r="3.6"/><circle cx="391" cy="407" r="3.6"/><circle cx="399" cy="405" r="3.6"/><circle cx="352" cy="402" r="3.6"/><circle cx="350" cy="413" r="3.6"/><circle cx="348" cy="423" r="3.6"/><circle cx="358" cy="437" r="3.6"/><circle cx="373" cy="442" r="3.6"/><circle cx="392" cy="445" r="3.6"/><circle cx="410" cy="424" r="3.6"/><circle cx="416" cy="429" r="3.6"/><circle cx="460" cy="440" r="3.6"/><circle cx="468" cy="449" r="3.6"/><circle cx="473" cy="453" r="3.6"/><circle cx="507" cy="445" r="3.6"/><circle cx="501" cy="454" r="3.6"/><circle cx="493" cy="457" r="3.6"/><circle cx="518" cy="463" r="3.6"/><circle cx="486" cy="461" r="3.6"/><circle cx="487" cy="471" r="3.6"/><circle cx="498" cy="464" r="3.6"/><circle cx="497" cy="469" r="3.6"/><circle cx="369" cy="462" r="3.6"/><circle cx="362" cy="474" r="3.6"/><circle cx="322" cy="471" r="3.6"/><circle cx="306" cy="483" r="3.6"/><circle cx="383" cy="480" r="3.6"/><circle cx="420" cy="466" r="3.6"/><circle cx="423" cy="462" r="3.6"/><circle cx="423" cy="477" r="3.6"/><circle cx="437" cy="485" r="3.6"/><circle cx="434" cy="492" r="3.6"/><circle cx="444" cy="492" r="3.6"/><circle cx="449" cy="488" r="3.6"/><circle cx="457" cy="486" r="3.6"/><circle cx="462" cy="483" r="3.6"/><circle cx="467" cy="496" r="3.6"/><circle cx="470" cy="492" r="3.6"/><circle cx="412" cy="493" r="3.6"/><circle cx="408" cy="502" r="3.6"/><circle cx="423" cy="502" r="3.6"/><circle cx="416" cy="511" r="3.6"/><circle cx="449" cy="507" r="3.6"/><circle cx="446" cy="514" r="3.6"/><circle cx="451" cy="512" r="3.6"/><circle cx="350" cy="492" r="3.6"/><circle cx="330" cy="502" r="3.6"/><circle cx="310" cy="508" r="3.6"/><circle cx="366" cy="506" r="3.6"/><circle cx="341" cy="517" r="3.6"/><circle cx="373" cy="525" r="3.6"/><circle cx="347" cy="527" r="3.6"/><circle cx="402" cy="523" r="3.6"/><circle cx="422" cy="527" r="3.6"/><circle cx="396" cy="535" r="3.6"/><circle cx="306" cy="533" r="3.6"/><circle cx="326" cy="539" r="3.6"/><circle cx="337" cy="534" r="3.6"/><circle cx="344" cy="534" r="3.6"/><circle cx="341" cy="541" r="3.6"/><circle cx="363" cy="538" r="3.6"/><circle cx="369" cy="539" r="3.6"/><circle cx="379" cy="538" r="3.6"/><circle cx="381" cy="540" r="3.6"/><circle cx="310" cy="547" r="3.6"/><circle cx="346" cy="549" r="3.6"/><circle cx="373" cy="549" r="3.6"/><circle cx="392" cy="548" r="3.6"/><circle cx="402" cy="550" r="3.6"/><circle cx="406" cy="549" r="3.6"/><circle cx="314" cy="559" r="3.6"/><circle cx="331" cy="559" r="3.6"/><circle cx="334" cy="556" r="3.6"/><circle cx="337" cy="553" r="3.6"/><circle cx="354" cy="556" r="3.6"/>
</g>
<g id="cluster-austropatagonia" class="bl">
<circle cx="742" cy="140" r="3.6"/><circle cx="662" cy="21" r="3.6"/><circle cx="597" cy="213" r="3.6"/><circle cx="828" cy="236" r="3.6"/>
<circle cx="676" cy="74" r="3.6"/><circle cx="707" cy="67" r="3.6"/><circle cx="717" cy="66" r="3.6"/><circle cx="747" cy="67" r="3.6"/><circle cx="752" cy="63" r="3.6"/><circle cx="768" cy="66" r="3.6"/><circle cx="775" cy="67" r="3.6"/><circle cx="793" cy="76" r="3.6"/><circle cx="783" cy="76" r="3.6"/><circle cx="805" cy="83" r="3.6"/><circle cx="810" cy="93" r="3.6"/><circle cx="818" cy="83" r="3.6"/><circle cx="704" cy="75" r="3.6"/><circle cx="693" cy="77" r="3.6"/><circle cx="667" cy="85" r="3.6"/><circle cx="653" cy="87" r="3.6"/><circle cx="653" cy="93" r="3.6"/><circle cx="661" cy="93" r="3.6"/><circle cx="675" cy="93" r="3.6"/><circle cx="693" cy="93" r="3.6"/><circle cx="737" cy="85" r="3.6"/><circle cx="747" cy="85" r="3.6"/><circle cx="756" cy="85" r="3.6"/><circle cx="770" cy="83" r="3.6"/><circle cx="782" cy="83" r="3.6"/><circle cx="787" cy="93" r="3.6"/><circle cx="638" cy="97" r="3.6"/><circle cx="645" cy="102" r="3.6"/><circle cx="657" cy="99" r="3.6"/><circle cx="680" cy="97" r="3.6"/><circle cx="725" cy="99" r="3.6"/><circle cx="753" cy="102" r="3.6"/><circle cx="773" cy="100" r="3.6"/><circle cx="790" cy="102" r="3.6"/><circle cx="803" cy="102" r="3.6"/><circle cx="823" cy="103" r="3.6"/><circle cx="838" cy="103" r="3.6"/><circle cx="843" cy="104" r="3.6"/><circle cx="632" cy="107" r="3.6"/><circle cx="638" cy="112" r="3.6"/><circle cx="640" cy="119" r="3.6"/><circle cx="653" cy="109" r="3.6"/><circle cx="667" cy="107" r="3.6"/><circle cx="677" cy="108" r="3.6"/><circle cx="693" cy="113" r="3.6"/><circle cx="702" cy="119" r="3.6"/><circle cx="716" cy="122" r="3.6"/><circle cx="753" cy="119" r="3.6"/><circle cx="765" cy="115" r="3.6"/><circle cx="777" cy="113" r="3.6"/><circle cx="792" cy="107" r="3.6"/><circle cx="803" cy="112" r="3.6"/><circle cx="837" cy="118" r="3.6"/><circle cx="838" cy="123" r="3.6"/><circle cx="626" cy="134" r="3.6"/><circle cx="635" cy="134" r="3.6"/><circle cx="648" cy="137" r="3.6"/><circle cx="657" cy="139" r="3.6"/><circle cx="668" cy="127" r="3.6"/><circle cx="682" cy="132" r="3.6"/><circle cx="683" cy="135" r="3.6"/><circle cx="725" cy="128" r="3.6"/><circle cx="738" cy="129" r="3.6"/><circle cx="753" cy="132" r="3.6"/><circle cx="788" cy="132" r="3.6"/><circle cx="803" cy="128" r="3.6"/><circle cx="817" cy="133" r="3.6"/><circle cx="828" cy="132" r="3.6"/><circle cx="845" cy="133" r="3.6"/><circle cx="847" cy="135" r="3.6"/><circle cx="645" cy="145" r="3.6"/><circle cx="627" cy="145" r="3.6"/><circle cx="628" cy="148" r="3.6"/><circle cx="640" cy="143" r="3.6"/><circle cx="680" cy="150" r="3.6"/><circle cx="740" cy="150" r="3.6"/><circle cx="750" cy="145" r="3.6"/><circle cx="760" cy="152" r="3.6"/><circle cx="788" cy="149" r="3.6"/><circle cx="798" cy="156" r="3.6"/><circle cx="806" cy="159" r="3.6"/><circle cx="807" cy="167" r="3.6"/><circle cx="665" cy="162" r="3.6"/><circle cx="675" cy="163" r="3.6"/><circle cx="683" cy="161" r="3.6"/><circle cx="688" cy="170" r="3.6"/><circle cx="705" cy="170" r="3.6"/><circle cx="725" cy="160" r="3.6"/><circle cx="725" cy="168" r="3.6"/><circle cx="745" cy="160" r="3.6"/><circle cx="760" cy="162" r="3.6"/><circle cx="772" cy="168" r="3.6"/><circle cx="783" cy="160" r="3.6"/><circle cx="653" cy="168" r="3.6"/><circle cx="655" cy="175" r="3.6"/><circle cx="688" cy="180" r="3.6"/><circle cx="700" cy="180" r="3.6"/><circle cx="710" cy="175" r="3.6"/><circle cx="753" cy="177" r="3.6"/><circle cx="767" cy="175" r="3.6"/><circle cx="790" cy="178" r="3.6"/><circle cx="800" cy="181" r="3.6"/><circle cx="725" cy="176" r="3.6"/><circle cx="730" cy="187" r="3.6"/>
</g>
<g id="cluster-ca_austral" class="dg">
<circle cx="722" cy="452" r="3.6"/><circle cx="728" cy="257" r="3.6"/><circle cx="763" cy="318" r="3.6"/><circle cx="632" cy="418" r="3.6"/><circle cx="631" cy="470" r="3.6"/><circle cx="597" cy="483" r="3.6"/><circle cx="638" cy="504" r="3.6"/><circle cx="602" cy="523" r="3.6"/><circle cx="664" cy="560" r="3.6"/>
<circle cx="722" cy="372" r="3.6"/><circle cx="735" cy="373" r="3.6"/><circle cx="747" cy="375" r="3.6"/><circle cx="706" cy="377" r="3.6"/><circle cx="712" cy="375" r="3.6"/><circle cx="722" cy="378" r="3.6"/><circle cx="700" cy="382" r="3.6"/><circle cx="713" cy="385" r="3.6"/><circle cx="723" cy="383" r="3.6"/><circle cx="733" cy="385" r="3.6"/><circle cx="740" cy="382" r="3.6"/><circle cx="697" cy="388" r="3.6"/><circle cx="706" cy="392" r="3.6"/><circle cx="748" cy="390" r="3.6"/><circle cx="755" cy="395" r="3.6"/><circle cx="758" cy="397" r="3.6"/><circle cx="688" cy="400" r="3.6"/><circle cx="699" cy="402" r="3.6"/><circle cx="717" cy="400" r="3.6"/><circle cx="740" cy="403" r="3.6"/><circle cx="750" cy="403" r="3.6"/><circle cx="760" cy="405" r="3.6"/><circle cx="765" cy="407" r="3.6"/><circle cx="740" cy="413" r="3.6"/><circle cx="760" cy="415" r="3.6"/><circle cx="765" cy="413" r="3.6"/><circle cx="678" cy="417" r="3.6"/><circle cx="697" cy="415" r="3.6"/><circle cx="728" cy="413" r="3.6"/><circle cx="737" cy="412" r="3.6"/><circle cx="668" cy="425" r="3.6"/><circle cx="685" cy="427" r="3.6"/><circle cx="707" cy="425" r="3.6"/><circle cx="722" cy="427" r="3.6"/><circle cx="737" cy="428" r="3.6"/><circle cx="747" cy="427" r="3.6"/><circle cx="773" cy="430" r="3.6"/><circle cx="770" cy="435" r="3.6"/><circle cx="775" cy="438" r="3.6"/><circle cx="677" cy="438" r="3.6"/><circle cx="693" cy="442" r="3.6"/><circle cx="710" cy="437" r="3.6"/><circle cx="725" cy="440" r="3.6"/><circle cx="738" cy="435" r="3.6"/><circle cx="757" cy="437" r="3.6"/><circle cx="767" cy="445" r="3.6"/><circle cx="672" cy="450" r="3.6"/><circle cx="683" cy="452" r="3.6"/><circle cx="690" cy="453" r="3.6"/><circle cx="713" cy="452" r="3.6"/><circle cx="740" cy="448" r="3.6"/><circle cx="753" cy="447" r="3.6"/><circle cx="768" cy="450" r="3.6"/><circle cx="673" cy="457" r="3.6"/><circle cx="697" cy="457" r="3.6"/><circle cx="758" cy="457" r="3.6"/><circle cx="770" cy="460" r="3.6"/><circle cx="777" cy="460" r="3.6"/><circle cx="673" cy="467" r="3.6"/><circle cx="677" cy="470" r="3.6"/><circle cx="687" cy="472" r="3.6"/><circle cx="695" cy="465" r="3.6"/><circle cx="760" cy="465" r="3.6"/><circle cx="772" cy="468" r="3.6"/><circle cx="687" cy="475" r="3.6"/><circle cx="707" cy="478" r="3.6"/><circle cx="713" cy="475" r="3.6"/><circle cx="727" cy="477" r="3.6"/><circle cx="737" cy="477" r="3.6"/><circle cx="753" cy="478" r="3.6"/><circle cx="763" cy="478" r="3.6"/><circle cx="772" cy="477" r="3.6"/><circle cx="698" cy="485" r="3.6"/><circle cx="705" cy="485" r="3.6"/><circle cx="717" cy="488" r="3.6"/><circle cx="740" cy="488" r="3.6"/><circle cx="752" cy="492" r="3.6"/><circle cx="763" cy="487" r="3.6"/><circle cx="770" cy="490" r="3.6"/><circle cx="680" cy="497" r="3.6"/><circle cx="688" cy="500" r="3.6"/><circle cx="707" cy="495" r="3.6"/><circle cx="717" cy="497" r="3.6"/><circle cx="727" cy="495" r="3.6"/><circle cx="743" cy="497" r="3.6"/><circle cx="687" cy="505" r="3.6"/><circle cx="697" cy="508" r="3.6"/><circle cx="722" cy="508" r="3.6"/><circle cx="712" cy="512" r="3.6"/><circle cx="743" cy="507" r="3.6"/><circle cx="753" cy="503" r="3.6"/><circle cx="697" cy="517" r="3.6"/><circle cx="707" cy="517" r="3.6"/><circle cx="730" cy="515" r="3.6"/><circle cx="742" cy="517" r="3.6"/><circle cx="750" cy="517" r="3.6"/><circle cx="707" cy="520" r="3.6"/><circle cx="717" cy="525" r="3.6"/><circle cx="735" cy="525" r="3.6"/><circle cx="715" cy="530" r="3.6"/><circle cx="723" cy="531" r="3.6"/><circle cx="758" cy="527" r="3.6"/>
</g>
<g id="cluster-off_vallo" class="lg">
<circle cx="848" cy="257" r="3.6"/><circle cx="833" cy="268" r="3.6"/><circle cx="854" cy="268" r="3.6"/><circle cx="847" cy="273" r="3.6"/><circle cx="904" cy="268" r="3.6"/><circle cx="863" cy="280" r="3.6"/><circle cx="892" cy="280" r="3.6"/><circle cx="863" cy="295" r="3.6"/><circle cx="877" cy="293" r="3.6"/><circle cx="876" cy="300" r="3.6"/><circle cx="886" cy="302" r="3.6"/><circle cx="930" cy="307" r="3.6"/><circle cx="851" cy="317" r="3.6"/><circle cx="867" cy="323" r="3.6"/>
</g>
<g id="cluster-andresitoparede" class="or">
<circle cx="849" cy="344" r="3.6"/><circle cx="852" cy="368" r="3.6"/><circle cx="837" cy="383" r="3.6"/><circle cx="871" cy="376" r="3.6"/><circle cx="856" cy="392" r="3.6"/>
</g>
<g id="cluster-vct_elmercurio" class="rd">
<circle cx="899" cy="344" r="3.6"/><circle cx="902" cy="356" r="3.6"/><circle cx="906" cy="371" r="3.6"/><circle cx="908" cy="382" r="3.6"/><circle cx="929" cy="388" r="3.6"/>
</g>
<g id="cluster-gabriel62877297" class="gd">
<circle cx="861" cy="413" r="3.6"/><circle cx="860" cy="426" r="3.6"/><circle cx="876" cy="429" r="3.6"/><circle cx="842" cy="435" r="3.6"/>
</g>
<g id="cluster-salvadormvios" class="mg">
<circle cx="897" cy="413" r="3.6"/><circle cx="905" cy="424" r="3.6"/><circle cx="911" cy="443" r="3.6"/><circle cx="920" cy="441" r="3.6"/><circle cx="929" cy="444" r="3.6"/>
</g>
<g id="cluster-teal" class="tl">
<circle cx="917" cy="466" r="3.6"/><circle cx="915" cy="479" r="3.6"/><circle cx="898" cy="485" r="3.6"/><circle cx="929" cy="488" r="3.6"/>
</g>
<g id="cluster-trollaciotwiter" class="lm">
<circle cx="833" cy="466" r="3.6"/><circle cx="843" cy="474" r="3.6"/><circle cx="852" cy="487" r="3.6"/><circle cx="866" cy="485" r="3.6"/><circle cx="878" cy="488" r="3.6"/>
</g>
<g id="cluster-ptgontroglodita" class="pu">
<circle cx="858" cy="508" r="3.6"/><circle cx="856" cy="519" r="3.6"/><circle cx="874" cy="525" r="3.6"/><circle cx="833" cy="520" r="3.6"/>
</g>
<g id="cluster-marceloomerreco" class="dp">
<circle cx="833" cy="546" r="3.6"/><circle cx="847" cy="551" r="3.6"/><circle cx="861" cy="556" r="3.6"/><circle cx="874" cy="561" r="3.6"/>
</g>
<g id="squares">
<rect x="892" y="517" width="7" height="7" fill="#000066"/><rect x="903" y="513" width="7" height="7" fill="#000066"/><rect x="926" y="505" width="7" height="7" fill="#000066"/>
<rect x="899" y="538" width="7" height="7" fill="#006633"/><rect x="892" y="558" width="7" height="7" fill="#006633"/>
<rect x="926" y="538" width="7" height="7" fill="#0a90f0"/><rect x="920" y="558" width="7" height="7" fill="#0a90f0"/>
</g>
<g id="labels-blue" class="tbl">
<text x="678" y="87" filter="url(#lb)">soffreveso2</text>
<text x="763" y="92" filter="url(#lb)">quezmarmol</text>
<text x="702" y="97" filter="url(#lb)">truchiman1</text>
<text x="796" y="119" filter="url(#lb)">marina1965rod</text>
<text x="597" y="152" filter="url(#lb)">2021hudo</text>
<text x="792" y="151" filter="url(#lb)">mpalaciosvpatty</text>
<text x="615" y="163" filter="url(#lb)">adrimozalez</text>
<text x="797" y="162" filter="url(#lb)">autoresineditor</text>
<text x="790" y="171" filter="url(#lb)">teresa_ios_raw</text>
<text x="755" y="179" filter="url(#lb)">cabisu</text>
<text x="636" y="181" filter="url(#lb)">vetus_ater2</text>
<text x="647" y="189" filter="url(#lb)">55ddz</text>
<text x="760" y="189" filter="url(#lb)">camaradagladys4</text>
<text x="692" y="192" filter="url(#lb)">jrjironramon</text>
<text x="740" y="201" filter="url(#lb)">gj_ford5000</text>
</g>
<g id="n-austropatagonia">
<rect class="hb" x="693" y="136.5" width="90" height="12.5"/>
<text class="tbl" x="738" y="147" text-anchor="middle">austropatagonia</text>
</g>
<g id="labels-green" class="tdg">
<text x="753" y="392" filter="url(#lb)">abaique</text>
<text x="692" y="397" filter="url(#lb)">santipamo</text>
<text x="650" y="407" filter="url(#lb)">acarol</text>
<text x="655" y="416" filter="url(#lb)">helena_rosa</text>
<text x="717" y="424" filter="url(#lb)">carmenquincha</text>
<text x="663" y="429" filter="url(#lb)">parralejo</text>
<text x="633" y="483" filter="url(#lb)">mlg3969602</text>
<text x="728" y="497" filter="url(#lb)">mariangelalinc</text>
<text x="653" y="499" filter="url(#lb)">nvasjoel8</text>
<text x="743" y="504" filter="url(#lb)">paz_mesa</text>
<text x="690" y="514" filter="url(#lb)">manu_severin</text>
<text x="713" y="527" filter="url(#lb)">transito_asesor</text>
<text x="558" y="539" filter="url(#lb)">davidgallardo70</text>
</g>
<g id="n-ca_austral">
<rect class="hb" x="694" y="458" width="59" height="12.5"/>
<text class="tdg" x="723.5" y="468.5" text-anchor="middle">ca_austral</text>
</g>
<g id="n-tdhdleine">
<rect class="hb" x="268" y="304.5" width="57" height="13"/>
<text class="tnv" x="296.5" y="315" text-anchor="middle">tdhdleine</text>
</g>
<g id="labels-right">
<text class="tlg" x="866" y="315" opacity="0.35">templanza16</text>
<text class="tlg" x="838" y="297" filter="url(#lb)">off_vallo</text>
<text class="tlg" x="888" y="301" opacity="0.6">afe</text>
<text class="tlg" x="835" y="310" filter="url(#lb)">cesar_quezada</text>
<text class="tor" x="800" y="361" filter="url(#lb)">andresitoparede</text>
<text class="tor" x="808" y="386" filter="url(#lb)">ecocamp_travel</text>
<text class="trd" x="882" y="389" filter="url(#lb)">mmcana</text>
<text class="trd" x="862" y="400" filter="url(#lb)">vct_elmercurio</text>
<text class="tgd" x="826" y="430" filter="url(#lb)">estebanyags</text>
<text class="tgd" x="814" y="443" filter="url(#lb)">gabriel62877297</text>
<text class="tmg" x="863" y="461" filter="url(#lb)">salvadormvios</text>
<text class="tlm" x="816" y="503" filter="url(#lb)">trollaciotwiter</text>
<text class="tpu" x="814" y="536" filter="url(#lb)">ptgontroglodita</text>
<text class="tdp" x="826" y="573" filter="url(#lb)">marceloomerreco</text>
</g>
</svg>
